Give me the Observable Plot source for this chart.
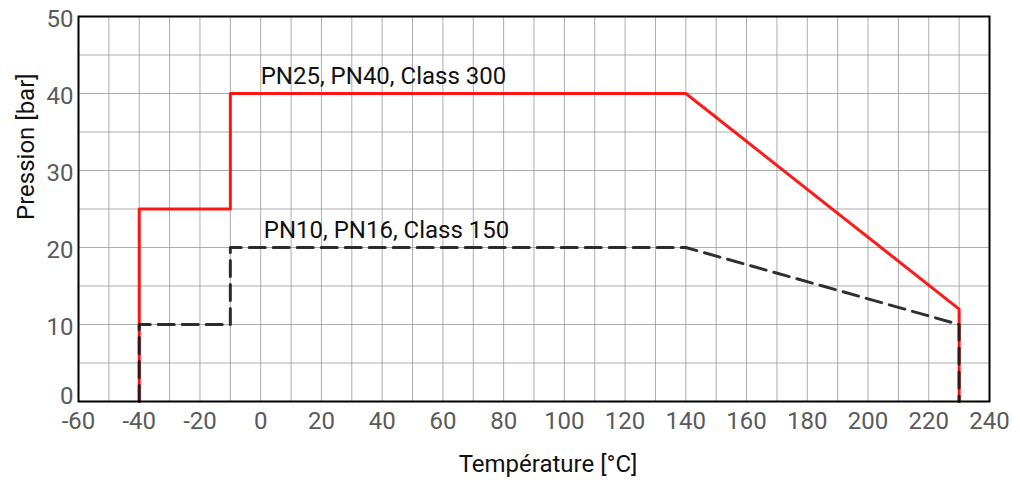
<!DOCTYPE html>
<html>
<head>
<meta charset="utf-8">
<script src="https://cdn.jsdelivr.net/npm/d3@7"></script>
<script src="https://cdn.jsdelivr.net/npm/@observablehq/plot@0.6"></script>
<style>
  html, body { margin: 0; padding: 0; background: #fff; }
  #chart svg { font-family: Roboto, "Noto Sans", sans-serif; }
</style>
</head>
<body>
<div id="chart"></div>
<script>
// Temperature (°C) breakpoints and pressures (bar)
const tempHigh = [-40, -40, -10, -10, 140, 230, 230];
const presHigh = [0, 25, 25, 40, 40, 12, 0];
const tempLow = [-40, -40, -10, -10, 140, 230, 230];
const presLow = [0, 10, 10, 20, 20, 10, 0];

const labelNames = ["PN25, PN40, Class 300", "PN10, PN16, Class 150"];
const labelTemp = [0, 1];
const labelPres = [41.2, 21.2];

const xTicks = [-60, -40, -20, 0, 20, 40, 60, 80, 100, 120, 140, 160, 180, 200, 220, 240];
const yTicks = [0, 10, 20, 30, 40, 50];
const xGrid = d3.range(-60, 241, 10);
const yGrid = d3.range(0, 51, 5);

const high = tempHigh.map((t, i) => ({t, p: presHigh[i]}));
const low = tempLow.map((t, i) => ({t, p: presLow[i]}));
const labels = labelNames.map((n, i) => ({n, t: labelTemp[i], p: labelPres[i]}));

const fmt = d => String(d);

const chart = Plot.plot({
  width: 1020,
  height: 480,
  marginLeft: 78,
  marginRight: 31,
  marginTop: 16,
  marginBottom: 79,
  x: {domain: [-60, 240]},
  y: {domain: [0, 50]},
  marks: [
    Plot.gridX(xGrid, {stroke: "#999", strokeOpacity: 0.8, strokeWidth: 1}),
    Plot.gridY(yGrid, {stroke: "#999", strokeOpacity: 0.8, strokeWidth: 1}),
    Plot.axisX(xTicks, {tickSize: 0, tickPadding: 10, fontSize: 24, fill: "#5a5a5a", label: null, tickFormat: fmt}),
    Plot.axisY(yTicks.filter(d => d > 0), {tickSize: 0, tickPadding: 5, fontSize: 24, fill: "#5a5a5a", label: null, tickFormat: fmt, dy: 3}),
    Plot.axisY(yTicks.filter(d => d === 0), {tickSize: 0, tickPadding: 5, fontSize: 24, fill: "#5a5a5a", label: null, tickFormat: fmt, dy: -5}),
    Plot.line(high, {x: "t", y: "p", stroke: "#f00", strokeWidth: 3, strokeOpacity: 0.9}),
    Plot.line(low, {x: "t", y: "p", stroke: "#1a1a1a", strokeWidth: 3, strokeDasharray: "16,8", strokeOpacity: 0.9}),
    Plot.text(labels, {x: "t", y: "p", text: "n", textAnchor: "start", fontSize: 24, fill: "#111", lineAnchor: "bottom"}),
    Plot.frame({stroke: "#000", strokeWidth: 2}),
    Plot.text(["Température [°C]"], {frameAnchor: "bottom", dy: 70, dx: 14, fontSize: 24, fill: "#111", lineAnchor: "bottom"}),
    Plot.text(["Pression [bar]"], {frameAnchor: "left", rotate: -90, dx: -52, dy: 11, fontSize: 24, fill: "#111"})
  ]
});
document.getElementById("chart").appendChild(chart);
</script>
</body>
</html>
